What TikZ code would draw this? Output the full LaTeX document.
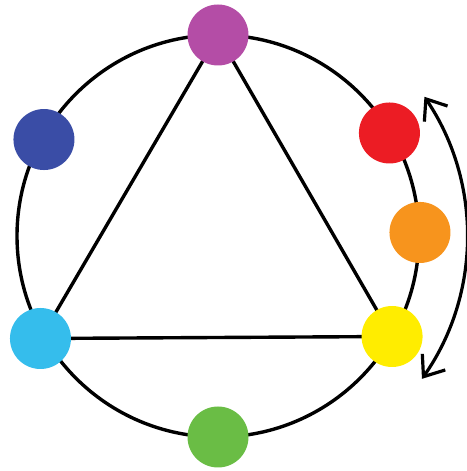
\documentclass[tikz,border=0pt]{standalone}
\usepackage{xcolor}
\usepackage{tikz}
\usetikzlibrary{arrows.meta,backgrounds}
\definecolor{cpurple}{HTML}{B44DA6}
\definecolor{cblue}{HTML}{3A4DA6}
\definecolor{cred}{HTML}{EC1C24}
\definecolor{corange}{HTML}{F7941D}
\definecolor{cyellow}{HTML}{FFED00}
\definecolor{cgreen}{HTML}{6ABD45}
\definecolor{ccyan}{HTML}{35BDEC}

\begin{document}
\begin{tikzpicture}[
    x=1pt,y=1pt,
    dot/.style={circle,inner sep=0pt,minimum size=61pt},
    rim/.style={line width=3.4pt},
    edge/.style={line width=3.4pt},
    arrow/.style={line width=3.2pt,{Straight Barb[length=18pt,width=28pt]}-{Straight Barb[length=18pt,width=28pt]}}
  ]
    \useasboundingbox (0,0) rectangle (466,471);
    \coordinate (c) at (218,235);

    \node[dot,fill=cpurple] (purple) at ([shift={(90:201)}]c) {};
    \node[dot,fill=cblue] (blue) at ([shift={(151:199)}]c) {};
    \node[dot,fill=cred] (red) at ([shift={(31:200)}]c) {};
    \node[dot,fill=corange] (orange) at ([shift={(1:202)}]c) {};
    \node[dot,fill=cyellow] (yellow) at ([shift={(-30:201)}]c) {};
    \node[dot,fill=ccyan] (cyan) at ([shift={(210:205)}]c) {};
    \node[dot,fill=cgreen] (green) at ([shift={(270:201)}]c) {};

    \begin{scope}[on background layer]
      \draw[rim] (c) circle (201);
      \draw[edge] (purple.center) -- (yellow.center);
      \draw[edge] (yellow.center) -- (cyan.center);
      \draw[edge] (cyan.center) -- (purple.center);
    \end{scope}

    % double arrow round the warm side
    \coordinate (arrtop) at ([shift={(34:249)}]c);
    \draw[arrow] (arrtop) arc[start angle=34,end angle=-35,radius=249];
  \end{tikzpicture}
\end{document}
